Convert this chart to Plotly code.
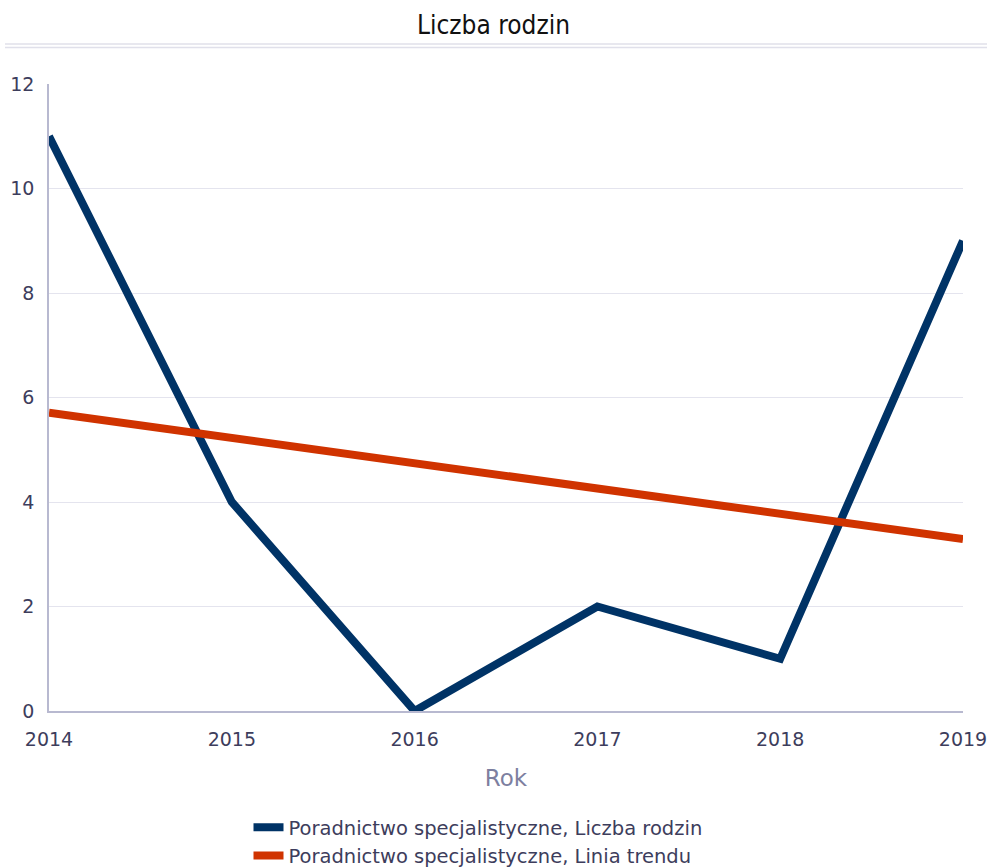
import plotly.graph_objects as go

years = [2014, 2015, 2016, 2017, 2018, 2019]
liczba_rodzin = [11, 4, 0, 2, 1, 9]
linia_trendu = [5.71, 5.23, 4.74, 4.26, 3.77, 3.29]
y_ticks = [0, 2, 4, 6, 8, 10, 12]

fig = go.Figure()
fig.add_trace(go.Scatter(x=years, y=liczba_rodzin, mode="lines",
                         name="Poradnictwo specjalistyczne, Liczba rodzin",
                         line=dict(color="#003366", width=8), cliponaxis=False))
fig.add_trace(go.Scatter(x=years, y=linia_trendu, mode="lines",
                         name="Poradnictwo specjalistyczne, Linia trendu",
                         line=dict(color="#d03300", width=8), cliponaxis=False))

W, HT = 987, 867
H = 627.0
fig.update_layout(
    width=W, height=HT,
    margin=dict(l=49, r=24, t=84, b=156, autoexpand=False),
    paper_bgcolor="white", plot_bgcolor="white",
    font=dict(family="DejaVu Sans", color="#3d3d5c", size=19),
    title=dict(text="Liczba rodzin", x=0.5, xanchor="center", y=1 - 25/HT, yanchor="middle",
               font=dict(family="DejaVu Sans Condensed", size=26, color="#111111")),
    xaxis=dict(range=[2014, 2019], tickvals=years, showgrid=False,
               showline=True, linecolor="#b8b9d0", linewidth=1.5,
               ticks="", ticklabelstandoff=10, automargin=False,
               ticklabeloverflow="allow",
               tickfont=dict(size=19, color="#3d3d5c"),
               title=dict(text="Rok", font=dict(size=23, color="#7d7fa0"), standoff=21),
               zeroline=False),
    yaxis=dict(range=[0, 12], tickvals=y_ticks, showgrid=True, gridcolor="#e4e4ee",
               showline=True, linecolor="#b8b9d0", linewidth=1.5, ticks="",
               tickfont=dict(size=19, color="#3d3d5c"), automargin=False,
               zeroline=False, ticklabelstandoff=9),
    legend=dict(orientation="v", xref="container", yref="container",
                x=478/W, xanchor="center", y=1 - 808/HT, yanchor="top",
                font=dict(size=19.5, color="#3d3d5c"), tracegroupgap=0, itemwidth=30),
    showlegend=True,
    shapes=[
        dict(type="line", xref="paper", yref="paper", x0=-44/914, x1=1 + 24/914,
             y0=(711 - 44) / H, y1=(711 - 44) / H,
             line=dict(color="#e0e0ea", width=1.5)),
        dict(type="line", xref="paper", yref="paper", x0=-44/914, x1=1 + 24/914,
             y0=(711 - 47.5) / H, y1=(711 - 47.5) / H,
             line=dict(color="#e0e0ea", width=1.5)),
    ],
)

fig.write_html(
    "out.html",
    config={"displayModeBar": False},
    post_script="document.body.style.margin='0';document.body.style.overflow='hidden';",
)
